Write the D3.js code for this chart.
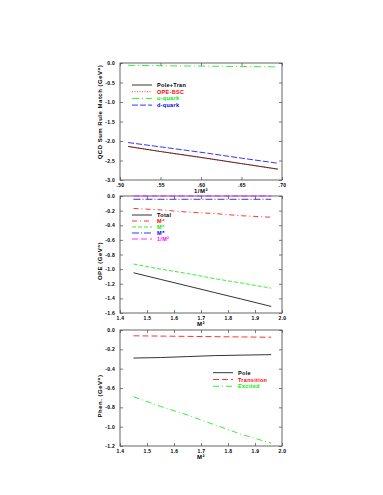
<html>
<head>
<script src="https://cdn.jsdelivr.net/npm/d3@7"></script>
<style>
  body { margin: 0; background: #fff; }
  .axis text { font-family: "Liberation Sans", "DejaVu Sans", sans-serif; font-size: 5px; font-weight: bold; fill: #000; letter-spacing: 0.3px; }
  .axis line { stroke: #444; stroke-width: 0.7; }
  .axis path { stroke: none; }
  .lab { font-family: "Liberation Sans", "DejaVu Sans", sans-serif; font-size: 5.5px; font-weight: bold; letter-spacing: 0.3px; }
  .ttl { font-family: "Liberation Sans", "DejaVu Sans", sans-serif; font-size: 6px; font-weight: bold; letter-spacing: 0.5px; }
</style>
</head>
<body>
<div id="chart"></div>
<script>
// panel 1 : QCD sum rule match vs 1/M^2
var invM2 = [0.51, 0.55, 0.60, 0.65, 0.695];
var poleTran = [-2.14, -2.27, -2.42, -2.58, -2.72];
var opeBsc = [-2.14, -2.27, -2.43, -2.58, -2.73];
var uQuark = [-0.06, -0.07, -0.08, -0.09, -0.10];
var dQuark = [-2.04, -2.15, -2.29, -2.44, -2.57];
var ticks1X = [0.50, 0.55, 0.60, 0.65, 0.70];
var ticks1Y = [0.0, -0.5, -1.0, -1.5, -2.0, -2.5, -3.0];

// panel 2 : OPE vs M^2
var m2 = [1.45, 1.55, 1.65, 1.75, 1.85, 1.96];
var opeTotal = [-1.05, -1.14, -1.23, -1.32, -1.41, -1.51];
var opeM4 = [-0.17, -0.19, -0.22, -0.24, -0.27, -0.29];
var opeM6 = [-0.93, -1.00, -1.06, -1.13, -1.19, -1.26];
var opeM8 = [-0.045, -0.045, -0.045, -0.045, -0.045, -0.045];
var opeInvM2 = [0.0, 0.0, 0.0, 0.0, 0.0, 0.0];
var ticks2Y = [0.0, -0.2, -0.4, -0.6, -0.8, -1.0, -1.2, -1.4, -1.6];

// panel 3 : phenomenological side vs M^2
var phenPole = [-0.29, -0.285, -0.275, -0.265, -0.26, -0.255];
var phenTrans = [-0.06, -0.063, -0.066, -0.069, -0.072, -0.075];
var phenExcited = [-0.69, -0.79, -0.88, -0.98, -1.08, -1.17];
var ticksMX = [1.4, 1.5, 1.6, 1.7, 1.8, 1.9, 2.0];
var ticks3Y = [0.0, -0.2, -0.4, -0.6, -0.8, -1.0, -1.2];

var w = 383, h = 495;
var svg = d3.select("#chart").append("svg").attr("width", w).attr("height", h);

function fmt1(d) { return d.toFixed(1); }

function panel(opt) {
  var x = d3.scaleLinear().domain(opt.xd).range([120, 282]);
  var y = d3.scaleLinear().domain(opt.yd).range([opt.top, opt.bottom]);
  var g = svg.append("g");

  g.append("g").attr("class", "axis").attr("transform", "translate(120,0)")
    .call(d3.axisLeft(y).tickValues(opt.yt).tickSizeInner(-3).tickSizeOuter(0).tickPadding(5)
      .tickFormat(fmt1));
  g.append("g").attr("class", "axis").attr("transform", "translate(282,0)")
    .call(d3.axisRight(y).tickValues(opt.yt).tickSizeInner(-3).tickSizeOuter(0).tickFormat(""));
  g.append("g").attr("class", "axis").attr("transform", "translate(0," + opt.bottom + ")")
    .call(d3.axisBottom(x).tickValues(opt.xt).tickSizeInner(-3).tickSizeOuter(0).tickPadding(3)
      .tickFormat(opt.xf));
  g.append("g").attr("class", "axis").attr("transform", "translate(0," + opt.top + ")")
    .call(d3.axisTop(x).tickValues(opt.xt).tickSizeInner(-3).tickSizeOuter(0).tickFormat(""));

  g.append("rect").attr("x", 120).attr("y", opt.top).attr("width", 162)
    .attr("height", opt.bottom - opt.top)
    .attr("fill", "none").attr("stroke", "#555").attr("stroke-width", 0.9);

  var line = d3.line().x(function (d) { return x(d[0]); }).y(function (d) { return y(d[1]); });
  opt.series.forEach(function (s) {
    g.append("path").datum(d3.zip(opt.xs, s.v))
      .attr("d", line).attr("fill", "none").attr("stroke", s.c)
      .attr("stroke-width", 0.8).attr("stroke-dasharray", s.dash);
  });

  // legend
  opt.series.forEach(function (s, i) {
    var ly = opt.leg[1] + i * opt.leg[3];
    g.append("line").attr("x1", opt.leg[0]).attr("x2", opt.leg[0] + 20)
      .attr("y1", ly).attr("y2", ly).attr("stroke", s.c).attr("stroke-width", 0.8)
      .attr("stroke-dasharray", s.dash);
    g.append("text").attr("class", "lab").attr("x", opt.leg[0] + opt.leg[2]).attr("y", ly + 2)
      .attr("fill", s.c).text(s.name);
  });

  g.append("text").attr("class", "ttl").attr("x", 201).attr("y", opt.bottom + 13)
    .attr("text-anchor", "middle").text(opt.xl);
  g.append("text").attr("class", "ttl").attr("text-anchor", "middle")
    .attr("transform", "translate(102," + opt.yc + ") rotate(-90)")
    .text(opt.yl);
}

panel({
  xd: [0.50, 0.70], yd: [0, -3], top: 63, bottom: 180, xt: ticks1X, yt: ticks1Y,
  xf: function (d) { return d.toFixed(2).replace("0.", "."); },
  xs: invM2, xl: "1/M\u00b2", yl: "QCD  Sum  Rule  Match  (GeV\u2076)", yc: 112,
  leg: [132, 85, 25, 6.7],
  series: [
    { name: "Pole+Tran", v: poleTran, c: "#000", dash: null },
    { name: "OPE-BSC", v: opeBsc, c: "#f00", dash: "1,1.5" },
    { name: "u-quark", v: uQuark, c: "#0e0", dash: "7,3,1,3" },
    { name: "d-quark", v: dQuark, c: "#00f", dash: "6,2" }
  ]
});

panel({
  xd: [1.4, 2.0], yd: [0, -1.6], top: 196, bottom: 313, xt: ticksMX, yt: ticks2Y,
  xf: fmt1,
  xs: m2, xl: "M\u00b2", yl: "OPE  (GeV\u2076)", yc: 261,
  leg: [132, 215, 25, 6],
  series: [
    { name: "Total", v: opeTotal, c: "#000", dash: null },
    { name: "M\u2074", v: opeM4, c: "#f00", dash: "5,3,1,3" },
    { name: "M\u2076", v: opeM6, c: "#0e0", dash: "4,2" },
    { name: "M\u2078", v: opeM8, c: "#00f", dash: "7,2,1,2" },
    { name: "1/M\u00b2", v: opeInvM2, c: "#f0f", dash: "6,3" }
  ]
});

panel({
  xd: [1.4, 2.0], yd: [0, -1.2], top: 330, bottom: 446, xt: ticksMX, yt: ticks3Y,
  xf: fmt1,
  xs: m2, xl: "M\u00b2", yl: "Phen.  (GeV\u2076)", yc: 396,
  leg: [213, 372.7, 25, 6.8],
  series: [
    { name: "Pole", v: phenPole, c: "#000", dash: null },
    { name: "Transition", v: phenTrans, c: "#f00", dash: "6,3" },
    { name: "Excited", v: phenExcited, c: "#0e0", dash: "6,3,1,3" }
  ]
});
</script>
</body>
</html>
